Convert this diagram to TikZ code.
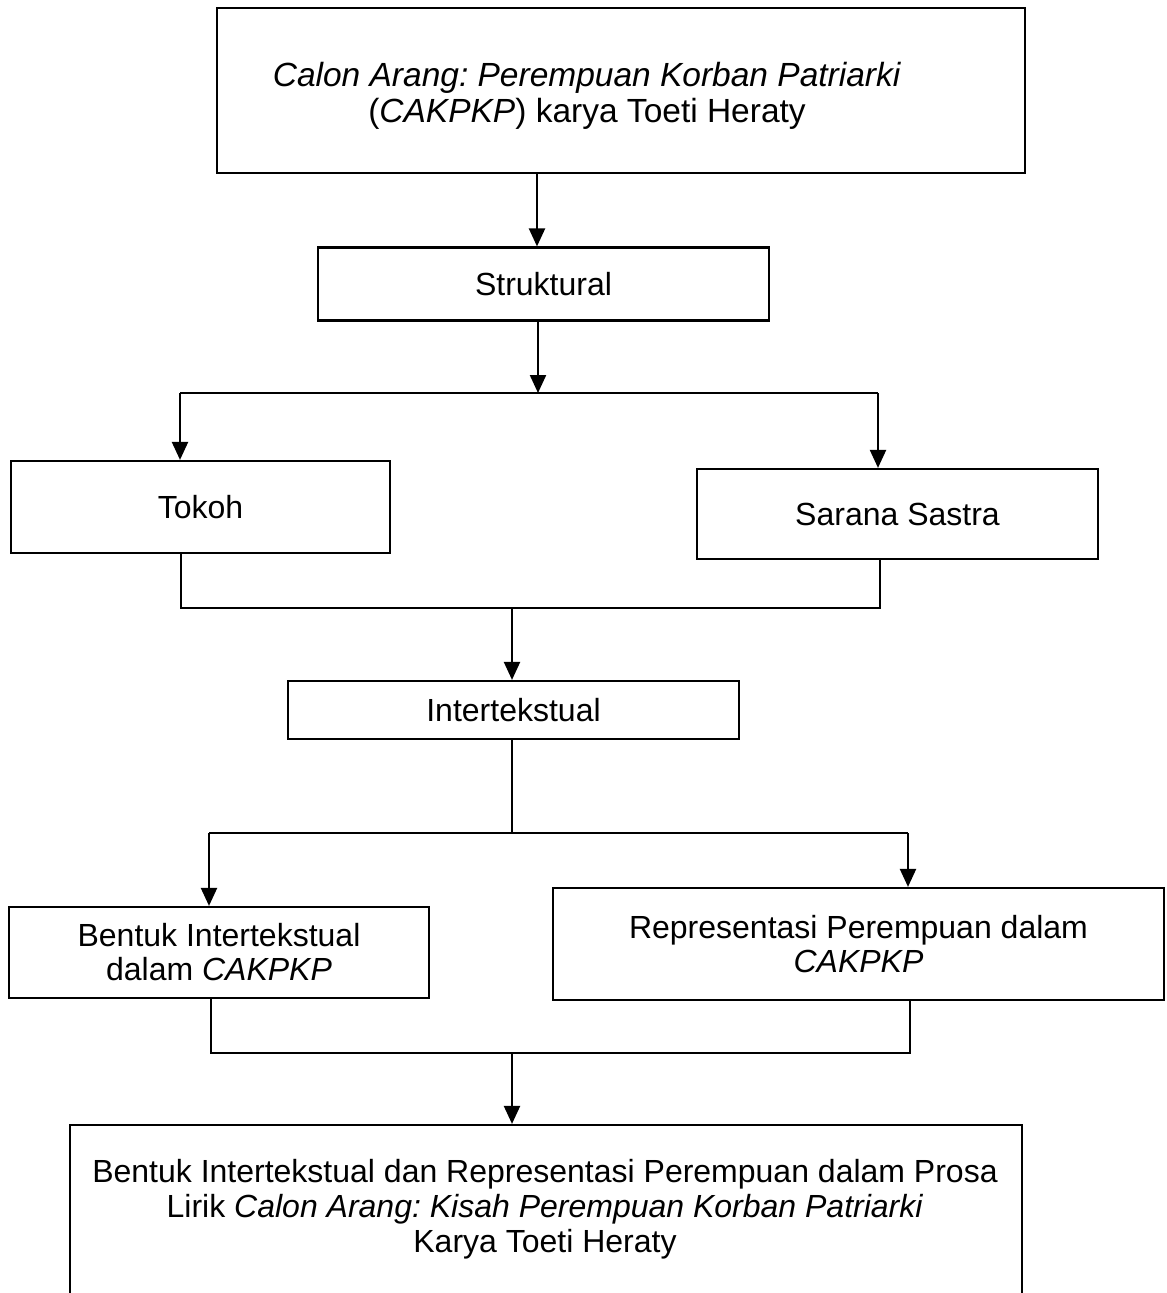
\documentclass[tikz,border=0pt]{standalone}
\usepackage{fontspec}
\setmainfont{Liberation Sans}
\usetikzlibrary{arrows.meta}
\frenchspacing
\begin{document}
\begin{tikzpicture}[x=1pt,y=-1pt,
  box/.style={draw, line width=2.2pt, rectangle, inner sep=0pt, align=center, font=\fontsize{32}{34}\selectfont},
  txt/.style={align=center, font=\fontsize{32}{35}\selectfont, inner sep=0pt},
  ln/.style={line width=2.2pt},
  arr/.style={line width=2.2pt, -{Triangle[width=16pt,length=18pt]}}]
\useasboundingbox (0,0) rectangle (1167,1293);
\fill[white] (0,0) rectangle (1167,1293);
\clip (0,0) rectangle (1167,1293);

% boxes
\node[box, minimum width=808pt, minimum height=165pt] (top) at (621,90.5) {};
\node[txt, font=\fontsize{33.5}{36}\selectfont] (toptxt) at (587,96) {\textit{Calon Arang: Perempuan Korban Patriarki}\\(\textit{CAKPKP}) karya Toeti Heraty};
\node[box, minimum width=451pt, minimum height=73pt] (strk) at (543.5,284) {Struktural};
\node[box, minimum width=379pt, minimum height=92pt] (tokoh) at (200.5,507) {Tokoh};
\node[box, minimum width=401pt, minimum height=90pt] (sarana) at (897.5,514) {Sarana Sastra};
\node[box, minimum width=451pt, minimum height=58pt] (inter) at (513.5,710) {Intertekstual};
\node[box, minimum width=420pt, minimum height=91pt] (bentuk) at (219,952.5) {Bentuk Intertekstual\\dalam \textit{CAKPKP}};
\node[box, minimum width=611pt, minimum height=112pt] (rep) at (858.5,944) {Representasi Perempuan dalam\\\textit{CAKPKP}};
\node[box, minimum width=952pt, minimum height=300pt] (final) at (546,1275) {};
\node[txt] (finaltxt) at (545,1209) {Bentuk Intertekstual dan Representasi Perempuan dalam Prosa\\Lirik \textit{Calon Arang: Kisah Perempuan Korban Patriarki}\\Karya Toeti Heraty};

% junction coordinates
\coordinate (c0) at (537,0);
\coordinate (j1) at (538,393);
\coordinate (j1l) at (180,393);
\coordinate (j1r) at (878,393);
\coordinate (j2) at (512,608);
\coordinate (j2l) at (181,608);
\coordinate (j2r) at (880,608);
\coordinate (j3) at (512,833);
\coordinate (j3l) at (209,833);
\coordinate (j3r) at (908,833);
\coordinate (j4) at (512,1053);
\coordinate (j4l) at (211,1053);
\coordinate (j4r) at (910,1053);

% connectors
\draw[arr] (top.south -| c0) -- (strk.north -| c0);
\draw[arr] (strk.south -| j1) -- (j1);
\draw[ln] (j1l) -- (j1r);
\draw[arr] (j1l) -- (tokoh.north -| j1l);
\draw[arr] (j1r) -- (sarana.north -| j1r);
\draw[ln] (tokoh.south -| j2l) -- (j2l) -- (j2r) -- (sarana.south -| j2r);
\draw[arr] (j2) -- (inter.north -| j2);
\draw[ln] (inter.south -| j3) -- (j3);
\draw[ln] (j3l) -- (j3r);
\draw[arr] (j3l) -- (bentuk.north -| j3l);
\draw[arr] (j3r) -- (rep.north -| j3r);
\draw[ln] (bentuk.south -| j4l) -- (j4l) -- (j4r) -- (rep.south -| j4r);
\draw[arr] (j4) -- (final.north -| j4);
\end{tikzpicture}
\end{document}
